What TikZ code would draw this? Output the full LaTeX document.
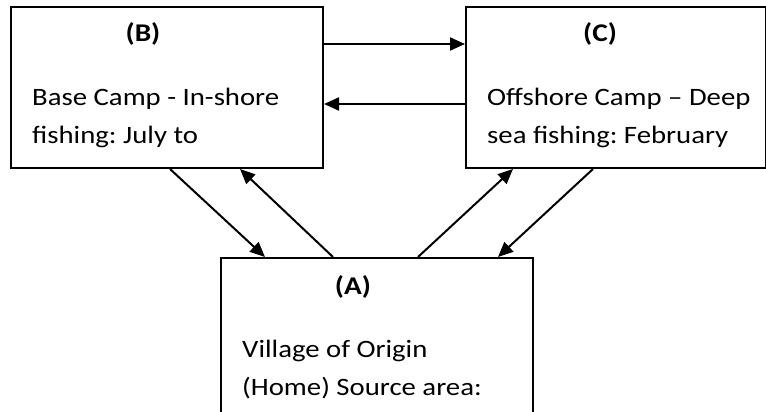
\documentclass[tikz,border=0pt]{standalone}
\usepackage{fontspec}
\setmainfont{Carlito}[FakeStretch=1.15]
\usetikzlibrary{arrows.meta}
\frenchspacing
\begin{document}
\begin{tikzpicture}[x=1pt,y=-1pt,
  box/.style={draw,line width=2pt,rectangle,inner sep=0pt,anchor=north west},
  ttl/.style={font=\fontsize{25.5}{30}\selectfont\bfseries,anchor=base,inner sep=0pt},
  txt/.style={font=\fontsize{25}{30}\selectfont,anchor=base west,inner sep=0pt},
  arr/.style={line width=2pt,-{Triangle[length=15pt,width=13pt]}}]
\clip (0,0) rectangle (766,412);
\node[box,minimum width=312pt,minimum height=161pt] (B) at (10,6) {};
\node[box,minimum width=300pt,minimum height=161pt] (C) at (465,6) {};
\node[box,minimum width=312pt,minimum height=200pt] (A) at (220,257) {};
\node[ttl] (Bt) at (143,42) {(B)};
\node[txt] (Bx1) at (32,105) {Base Camp - In-shore};
\node[txt] (Bx2) at (32,143) {fishing: July to};
\node[ttl] (Ct) at (600,42) {(C)};
\node[txt] (Cx1) at (487,105) {Offshore Camp – Deep};
\node[txt] (Cx2) at (487,143) {sea fishing: February};
\node[ttl] (At) at (353,294) {(A)};
\node[txt] (Ax1) at (242,357) {Village of Origin};
\node[txt] (Ax2) at (242,395) {(Home) Source area:};
\draw[arr] ([yshift=-38pt]B.north east) -- ([yshift=-38pt]C.north west);
\draw[arr] ([yshift=-98pt]C.north west) -- ([yshift=-98pt]B.north east);
\draw[arr] ([xshift=160pt]B.south west) -- ([xshift=45pt]A.north west);
\draw[arr] ([xshift=113pt]A.north west) -- ([xshift=230pt]B.south west);
\draw[arr] ([xshift=198pt]A.north west) -- ([xshift=48pt]C.south west);
\draw[arr] ([xshift=128pt]C.south west) -- ([xshift=278pt]A.north west);
\end{tikzpicture}
\end{document}
